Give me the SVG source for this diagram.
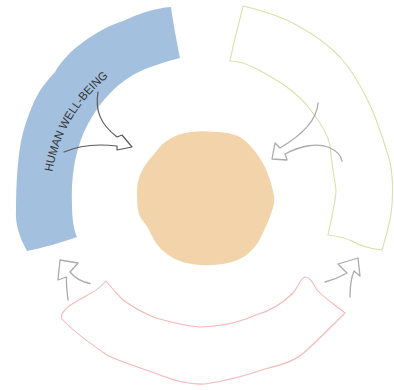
<svg xmlns="http://www.w3.org/2000/svg" width="394" height="390" viewBox="0 0 394 390">
  <style>
    .conn { fill: none; stroke-linejoin: round; stroke-linecap: round; }
    .dark { stroke: #5a5a5a; stroke-width: 1.2; }
    .gray { stroke: #ababab; stroke-width: 1.3; }
    .label { font-family: "Liberation Sans", Arial, sans-serif; font-size: 11.6px; fill: #333333; }
  </style>
  <defs>
    <path id="arcText" d="M52.2,171.9 A155 155 0 0 1 127.5,63.8"/>
  </defs>
  <rect width="394" height="390" fill="#ffffff"/>

  <g id="node-wellbeing">
    <path fill="#a3c0de" d="M171,7 C173,22 176,38 180,58 C165,62 150,66 133,75 C112,87 95,108 84,132 C74,155 71,180 72,205 C72,220 74,230 77,237 C60,243 42,248 27,251 C20,238 15,225 16,210 C16,190 17,170 19,155 C21,135 27,118 34,102 C42,85 50,78 55,72 C62,60 72,50 82,43 C95,33 110,25 123,21 C138,14 155,8 171,7 Z"/>
    <text class="label"><textPath href="#arcText" textLength="113" lengthAdjust="spacingAndGlyphs">HUMAN WELL-BEING</textPath></text>
  </g>

  <g id="node-right">
    <path fill="none" stroke="#d6e2a6" stroke-width="1.1" d="M243,6 C260,10 285,18 300,27 C315,35 328,45 340,57 C352,70 362,88 370,105 C378,122 383,140 388,155 C393,170 393,190 392,205 C391,222 386,236 382,250 C372,249 362,247 352,241 C344,237 336,236 328,235 C330,225 336,200 336,190 C334,175 331,160 330,145 C327,132 320,122 312,112 C304,100 294,92 284,85 C270,76 255,67 243,63 C238,62 234,61 230,61 C234,40 240,20 243,6 Z"/>
  </g>

  <g id="node-bottom">
    <path fill="none" stroke="#f6b8b4" stroke-width="1.1" d="M106,281 C100,288 92,293 86,296 C78,301 70,304 65,310 C61,314 61,317 62,319 C72,330 88,342 107,355 C125,364 145,369 160,375 C175,381 190,385 205,384 C225,381 245,376 265,369 C285,364 297,360 307,350 C320,338 333,325 345,313 C335,305 322,296 317,290 C313,283 310,277 305,277 C300,278 298,288 293,293 C282,304 270,311 256,315 C240,322 225,326 200,327 C185,326 170,322 156,318 C140,312 130,305 123,300 C116,293 110,286 106,281 Z"/>
  </g>

  <g id="node-center">
    <path fill="#f3d3a9" d="M191.5,132 Q200,131 208.5,131.5 Q217,132 223.5,132.5 Q230,133 236.5,135.5 Q243,138 250,145.5 Q257,153 262,161.5 Q267,170 270,180 Q273,190 274,196 Q275,202 272.5,209.5 Q270,217 266.5,225 Q263,233 260,239 Q257,245 251,251 Q245,257 237.5,260 Q230,263 218.5,264.5 Q207,266 195,264.5 Q183,263 175,259 Q167,255 161,249 Q155,243 151.5,235 Q148,227 143,221 Q138,215 137.5,206 Q137,197 137,190 Q137,183 140,175 Q143,167 149,160 Q155,153 159,148 Q163,143 168,140 Q173,137 178,135 Q183,133 191.5,132 Z"/>
  </g>

  <g id="connectors">
    <path class="conn dark" d="M98,92 C95,110 100,124 117,137 L122,135 L132,147 L117,150 L117,146 C100,144 80,145 64,152"/>
    <path class="conn gray" d="M318,103 C317,120 302,135 280,148 L275,143 L272,159 L287,160 L285,154 C300,146 318,142 330,148 C337,151 341,156 342,161"/>
    <path class="conn gray" d="M68,300 C67,292 66,284 66.5,277 L58,280 L60,260 L78,263 L70,272 C75,278 82,282 90,283.5"/>
    <path class="conn gray" d="M325,282 C333,280 340,277 347,273 L338,264 L358,258 L360,276 L354,271 C351,278 350,288 350,297"/>
  </g>
</svg>
